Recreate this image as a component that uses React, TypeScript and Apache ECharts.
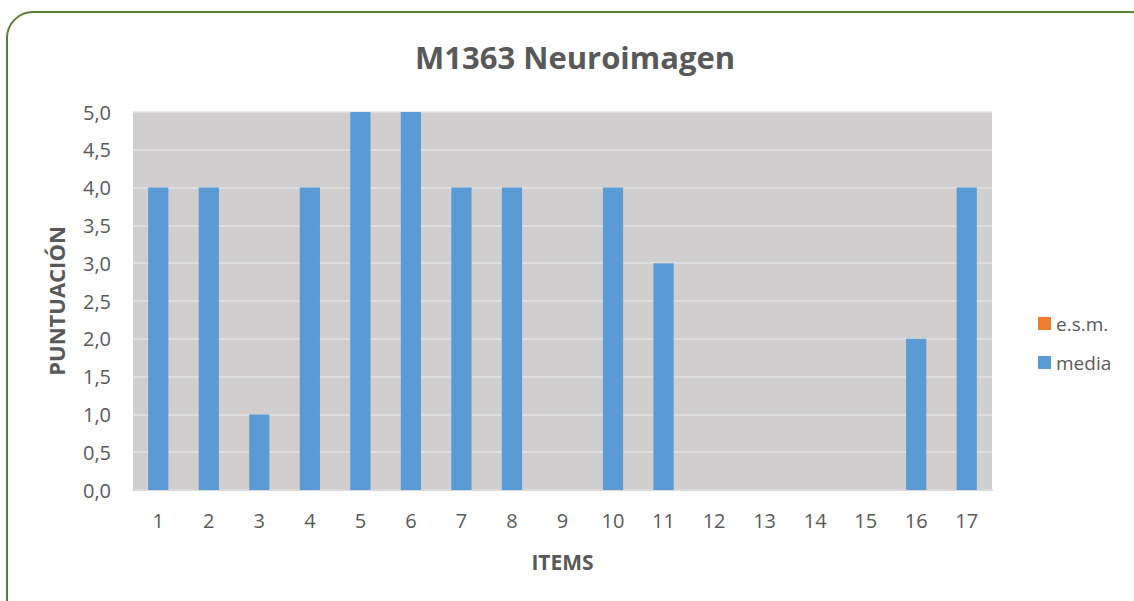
import React, { useEffect, useRef } from "react";
import * as echarts from "echarts";

const categories = ["1","2","3","4","5","6","7","8","9","10","11","12","13","14","15","16","17"];
const media = [4,4,1,4,5,5,4,4,0,4,3,0,0,0,0,2,4];
const esm = [0,0,0,0,0,0,0,0,0,0,0,0,0,0,0,0,0];
const FONT = "'Open Sans', sans-serif";

export default function App() {
  const ref = useRef<HTMLDivElement>(null);
  useEffect(() => {
    const chart = echarts.init(ref.current!, undefined, { renderer: "svg" });
    chart.setOption({
      animation: false,
      textStyle: { fontFamily: FONT },
      title: {
        text: "M1363 Neuroimagen",
        left: 410,
        top: 36,
        textStyle: { fontSize: 31, fontWeight: "bold", color: "#595959", fontFamily: FONT },
      },
      graphic: [
        {
          type: "rect",
          shape: { x: 7, y: 12, width: 1150, height: 620, r: 26 },
          style: { fill: "none", stroke: "#548235", lineWidth: 2 },
          silent: true,
        },
      ],
      legend: {
        orient: "vertical",
        left: 1033,
        top: 309,
        itemWidth: 13,
        itemHeight: 13,
        itemGap: 20,
        icon: "rect",
        textStyle: { fontSize: 19, color: "#595959", fontFamily: FONT },
        data: ["e.s.m.", "media"],
      },
      grid: {
        left: 133,
        right: 142,
        top: 112,
        bottom: 111,
        show: true,
        backgroundColor: "#d0cece",
        borderWidth: 0,
        containLabel: false,
      },
      xAxis: {
        type: "category",
        data: categories,
        name: "ITEMS",
        nameLocation: "middle",
        nameGap: 61,
        nameTextStyle: { fontSize: 21, fontWeight: "bold", color: "#595959", fontFamily: FONT },
        axisLine: { show: true, lineStyle: { color: "#d9d9d9", width: 2 } },
        axisTick: { show: false },
        axisLabel: { fontSize: 20, color: "#595959", margin: 20, fontFamily: FONT },
      },
      yAxis: {
        type: "value",
        min: 0,
        max: 5,
        interval: 0.5,
        name: "PUNTUACIÓN",
        nameLocation: "middle",
        nameGap: 66,
        nameTextStyle: { fontSize: 22, fontWeight: "bold", color: "#595959", fontFamily: FONT },
        axisLine: { show: false },
        axisTick: { show: false },
        splitLine: { lineStyle: { color: "#e3e3e3", width: 1.5 } },
        axisLabel: {
          fontSize: 20,
          color: "#595959",
          margin: 22,
          fontFamily: FONT,
          formatter: (v: number) => v.toFixed(1).replace(".", ","),
        },
      },
      series: [
        {
          name: "e.s.m.",
          type: "bar",
          data: esm,
          barWidth: "40%",
          itemStyle: { color: "#ed7d31" },
        },
        {
          name: "media",
          type: "bar",
          data: media,
          barWidth: "40%",
          barGap: "-100%",
          itemStyle: { color: "#5b9bd5" },
        },
      ],
    });
    return () => chart.dispose();
  }, []);
  return (
    <div
      ref={ref}
      style={{ position: "fixed", left: 0, top: 0, width: 1134, height: 601, background: "#fff" }}
    />
  );
}
